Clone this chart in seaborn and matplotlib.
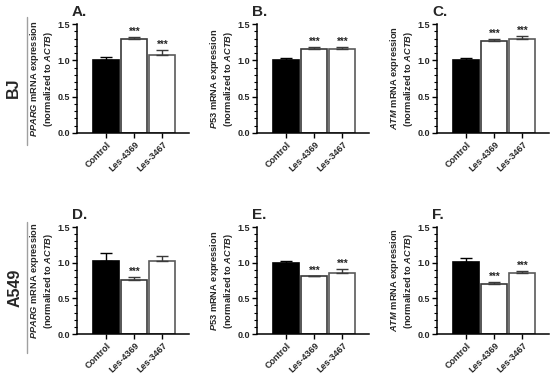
import matplotlib
matplotlib.use("Agg")
import matplotlib.pyplot as plt
import seaborn as sns
import pandas as pd
from matplotlib.ticker import MultipleLocator
from matplotlib.lines import Line2D

sns.set_theme(style="ticks")
plt.rcParams['font.family'] = ['Liberation Sans', 'DejaVu Sans']
plt.rcParams['font.weight'] = 'bold'
plt.rcParams['mathtext.fontset'] = 'custom'
plt.rcParams['mathtext.rm'] = 'Liberation Sans:bold'
plt.rcParams['mathtext.it'] = 'Liberation Sans:italic:bold'
plt.rcParams['mathtext.bf'] = 'Liberation Sans:bold'

categories = ["Control", "Les-4369", "Les-3467"]
panel_letters = ["A.", "B.", "C.", "D.", "E.", "F."]
genes = ["PPARG", "P53", "ATM", "PPARG", "P53", "ATM"]
row_labels = ["BJ", "A549"]

vals_A = [1.00, 1.29, 1.08]
err_A = [0.05, 0.03, 0.06]
sig_A = ["", "***", "***"]
vals_B = [1.00, 1.16, 1.16]
err_B = [0.035, 0.025, 0.025]
sig_B = ["", "***", "***"]
vals_C = [1.00, 1.26, 1.30]
err_C = [0.03, 0.03, 0.04]
sig_C = ["", "***", "***"]
vals_D = [1.03, 0.76, 1.02]
err_D = [0.10, 0.04, 0.07]
sig_D = ["", "***", ""]
vals_E = [1.00, 0.81, 0.85]
err_E = [0.03, 0.01, 0.065]
sig_E = ["", "***", "***"]
vals_F = [1.01, 0.70, 0.85]
err_F = [0.06, 0.03, 0.04]
sig_F = ["", "***", "***"]

values = [vals_A, vals_B, vals_C, vals_D, vals_E, vals_F]
errors = [err_A, err_B, err_C, err_D, err_E, err_F]
sigs = [sig_A, sig_B, sig_C, sig_D, sig_E, sig_F]

W, H = 550, 375
fig = plt.figure(figsize=(5.5, 3.75), dpi=100)

lefts = [77, 257, 437]
axw = 112
rows = [(24, 133), (227, 334)]
palette = {"Control": "black", "Les-4369": "white", "Les-3467": "white"}
edges = ["black", "#3a3a3a", "#5a5a5a"]

for k in range(6):
    r, c = divmod(k, 3)
    top, bot = rows[r]
    ax = fig.add_axes([lefts[c] / W, 1 - bot / H, axw / W, (bot - top) / H])
    df = pd.DataFrame({"cat": categories, "val": values[k]})
    sns.barplot(data=df, x="cat", y="val", hue="cat", palette=palette,
                order=categories, hue_order=categories, legend=False,
                errorbar=None, width=0.92, ax=ax, saturation=1)
    for i, p in enumerate(ax.patches):
        p.set_edgecolor(edges[i])
        p.set_linewidth(1.2)
    for i in range(3):
        ax.errorbar([i], [values[k][i]], yerr=[[0], [errors[k][i]]],
                    fmt="none", ecolor="black" if i == 0 else "#3a3a3a",
                    elinewidth=1.0, capsize=4.5, capthick=1.0)
        if sigs[k][i]:
            ax.text(i, values[k][i] + errors[k][i] + 0.0, sigs[k][i],
                    ha="center", va="bottom", fontsize=7, fontweight="bold")
    ax.set_ylim(0, 1.5)
    ax.set_xlim(-1.04, 2.95)
    ax.set_yticks([0, 0.5, 1.0, 1.5])
    ax.set_yticklabels(["0.0", "0.5", "1.0", "1.5"], fontsize=6.5, fontweight="bold")
    ax.yaxis.set_minor_locator(MultipleLocator(0.1))
    ax.set_xticks(range(3))
    ax.set_xticklabels(categories, rotation=45, ha="right", va="top",
                       rotation_mode="anchor", fontsize=6.5, fontweight="bold")
    ax.tick_params(axis="both", which="major", length=3.5, width=1, pad=1.5, color="black")
    ax.tick_params(axis="y", which="minor", length=2, width=0.8, color="black")
    ax.set_xlabel("")
    ax.set_ylabel("$\\mathit{%s}$ mRNA expression\n(normalized to $\\mathit{ACTB}$)" % genes[k],
                  fontsize=6.7, fontweight="bold", labelpad=2, linespacing=1.1)
    for s in ["top", "right"]:
        ax.spines[s].set_visible(False)
    for s in ["left", "bottom"]:
        ax.spines[s].set_color("black")
        ax.spines[s].set_linewidth(1.1)
    ax.set_facecolor("white")
    fig.text((lefts[c] - 5) / W, 1 - (top - 12) / H, panel_letters[k],
             fontsize=11, fontweight="bold", ha="left", va="center")

fig.text(13 / W, 1 - 88 / H, row_labels[0], rotation=90, fontsize=11.5,
         fontweight="bold", ha="center", va="center")
fig.text(15 / W, 1 - 288 / H, row_labels[1], rotation=90, fontsize=11.5,
         fontweight="bold", ha="center", va="center")
fig.add_artist(Line2D([27 / W, 27 / W], [1 - 17 / H, 1 - 145 / H], color="#a0a0a0", lw=1))
fig.add_artist(Line2D([27 / W, 27 / W], [1 - 222 / H, 1 - 353 / H], color="#a0a0a0", lw=1))

fig.savefig("out.png", dpi=100, facecolor="white")
